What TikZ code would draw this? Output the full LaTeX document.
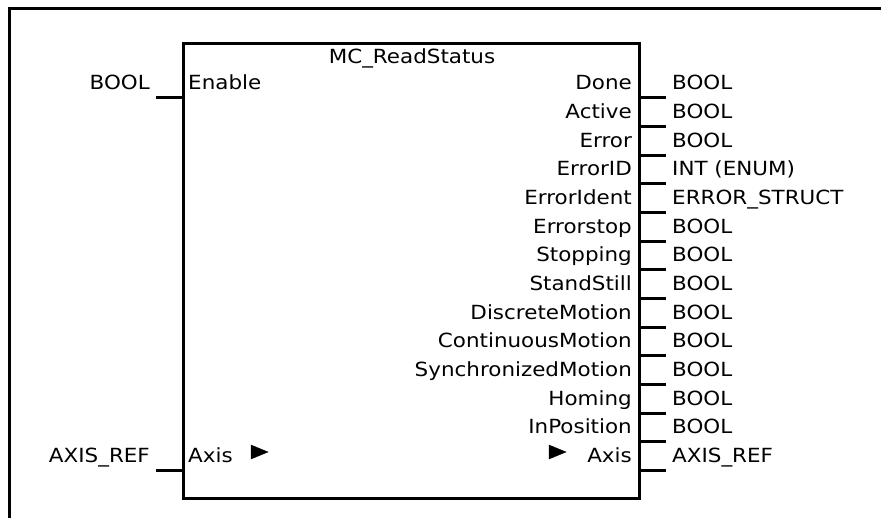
\documentclass[tikz,border=0pt]{standalone}
\usepackage{fontspec}
\setmainfont{DejaVu Sans}[FakeStretch=1.1]
\begin{document}
\begin{tikzpicture}[x=1pt,y=-1pt,
  pin/.style={line width=3pt},
  frame/.style={line width=3pt},
  lbl/.style={inner sep=0pt,font=\fontsize{19.5pt}{22pt}\selectfont},
  outname/.style={lbl,anchor=base east},
  outtype/.style={lbl,anchor=base west},
  inname/.style={lbl,anchor=base west},
  intype/.style={lbl,anchor=base east},
  tri/.style={fill=black}]
\useasboundingbox (0,0) rectangle (881,518);
% outer frame (only top and left visible)
\draw[frame] (881,9) -- (9,9) -- (9,518);
% block
\node[draw,line width=3pt,minimum width=456pt,minimum height=455pt,inner sep=0pt,anchor=north west] (fb) at (182,42) {};
\node[lbl,anchor=base] (title) at (412,64) {MC\_ReadStatus};
% inputs
\coordinate (ien) at (182,98);
\coordinate (ienE) at (156,98);
\draw[pin] (ienE) -- (ien);
\node[intype] (tEn) at (150,90) {BOOL};
\node[inname] (nEn) at (188,90) {Enable};
\coordinate (iax) at (182,470.5);
\coordinate (iaxE) at (156,470.5);
\draw[pin] (iaxE) -- (iax);
\node[intype] (tAx) at (150,462.5) {AXIS\_REF};
\node[inname] (nAx) at (188,462.5) {Axis};
\draw[tri] (251,445) -- (268,452) -- (251,459) -- cycle;
% outputs
\foreach \i/\n/\t in {0/Done/BOOL,1/Active/BOOL,2/Error/BOOL,3/ErrorID/INT (ENUM),4/ErrorIdent/ERROR\_STRUCT,5/Errorstop/BOOL,6/Stopping/BOOL,7/StandStill/BOOL,8/DiscreteMotion/BOOL,9/ContinuousMotion/BOOL,10/SynchronizedMotion/BOOL,11/Homing/BOOL,12/InPosition/BOOL,13/Axis/AXIS\_REF}{
  \coordinate (o\i) at (638,98+\i*28.65);
  \coordinate (o\i E) at (666,98+\i*28.65);
  \draw[pin] (o\i) -- (o\i E);
  \node[outname] (on\i) at (632,90+\i*28.65) {\n};
  \node[outtype] (ot\i) at (672,90+\i*28.65) {\t};
}
\draw[tri] (549,445) -- (566,452) -- (549,459) -- cycle;
\end{tikzpicture}
\end{document}
